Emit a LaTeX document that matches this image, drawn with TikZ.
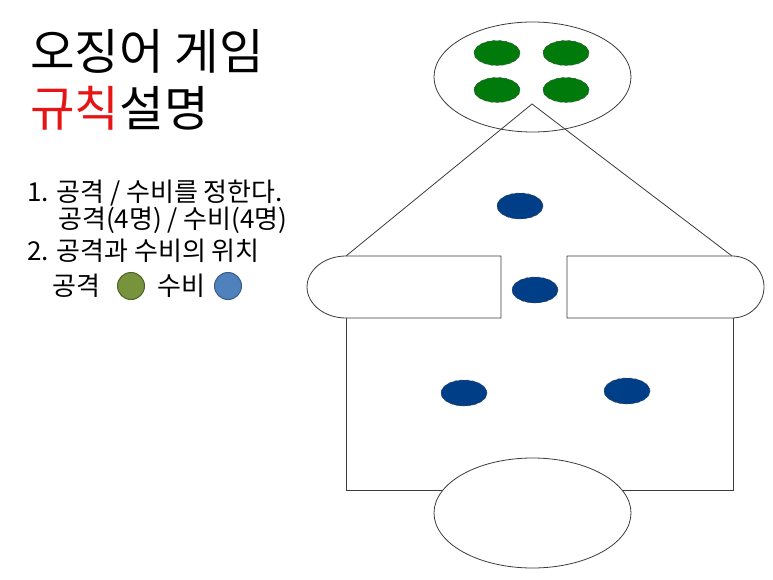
\documentclass[tikz,border=0pt]{standalone}
\usepackage{fontspec}
\usepackage{xcolor}
\usepackage{tikz}
\usetikzlibrary{shapes.geometric}
\setmainfont{Noto Sans CJK KR}
\definecolor{titlered}{RGB}{230, 20, 20}
\definecolor{atkgreen}{RGB}{0, 122, 10}
\definecolor{defblue}{RGB}{0, 62, 135}
\definecolor{keygreen}{RGB}{119, 147, 60}
\definecolor{keygreenline}{RGB}{78, 97, 40}
\definecolor{keyblue}{RGB}{79, 129, 189}
\definecolor{keyblueline}{RGB}{56, 93, 138}
\definecolor{fieldline}{RGB}{60, 60, 60}
\tikzset{
    field/.style={draw=fieldline, line width=0.8pt},
    atkdot/.style={ellipse, draw=black!70, dashed, line width=0.5pt, fill=atkgreen, minimum width=46pt, minimum height=25pt, inner sep=0pt},
    defdot/.style={ellipse, draw=black!70, dashed, line width=0.5pt, fill=defblue, minimum width=46pt, minimum height=26pt, inner sep=0pt},
    keydot/.style={circle, line width=1pt, minimum size=27pt, inner sep=0pt},
    heading/.style={anchor=base west, inner sep=0pt, font=\fontsize{48.5}{54}\selectfont},
    rule/.style={anchor=base west, inner sep=0pt, font=\fontsize{26}{30}\selectfont}
}

\begin{document}
\begin{tikzpicture}[x=1pt, y=-1pt]
    \useasboundingbox[fill=white] (0,0) rectangle (773,580);

    \node[heading] (title) at (30,70) {오징어 게임};
    \node[heading] (subtitle) at (30,127) {\textcolor{titlered}{규칙}설명};

    \node[rule] (rule1) at (27,201) {1. 공격 / 수비를 정한다.};
    \node[rule] (rule1b) at (58,228) {공격(4명) / 수비(4명)};
    \node[rule] (rule2) at (27,260) {2. 공격과 수비의 위치};
    \node[rule] (keyatk) at (52,295) {공격};
    \node[keydot, draw=keygreenline, fill=keygreen] (keyatkdot) at (131,286) {};
    \node[rule] (keydef) at (157,295) {수비};
    \node[keydot, draw=keyblueline, fill=keyblue] (keydefdot) at (228,286) {};

    \draw[field] (532.5,77) ellipse[x radius=98.5, y radius=55];
    \draw[field] (346,256) -- (532,104) -- (732,256);
    \draw[field] (501,318) -- (501,256) -- (346,256) arc[start angle=270, end angle=90, x radius=39, y radius=31] -- cycle;
    \draw[field] (567,318) -- (567,256) -- (732,256) arc[start angle=270, end angle=450, x radius=32, y radius=31] -- cycle;
    \draw[field] (346,318) -- (346,490) -- (733,490) -- (733,318);
    \draw[field, fill=white] (532.5,513) ellipse[x radius=98.5, y radius=55];

    \node[atkdot] (atk1) at (497,53) {};
    \node[atkdot] (atk2) at (566,53) {};
    \node[atkdot] (atk3) at (497,90) {};
    \node[atkdot] (atk4) at (566,90) {};

    \node[defdot] (def1) at (520,206) {};
    \node[defdot] (def2) at (535,290) {};
    \node[defdot] (def3) at (464,393) {};
    \node[defdot] (def4) at (627,391) {};
\end{tikzpicture}
\end{document}
